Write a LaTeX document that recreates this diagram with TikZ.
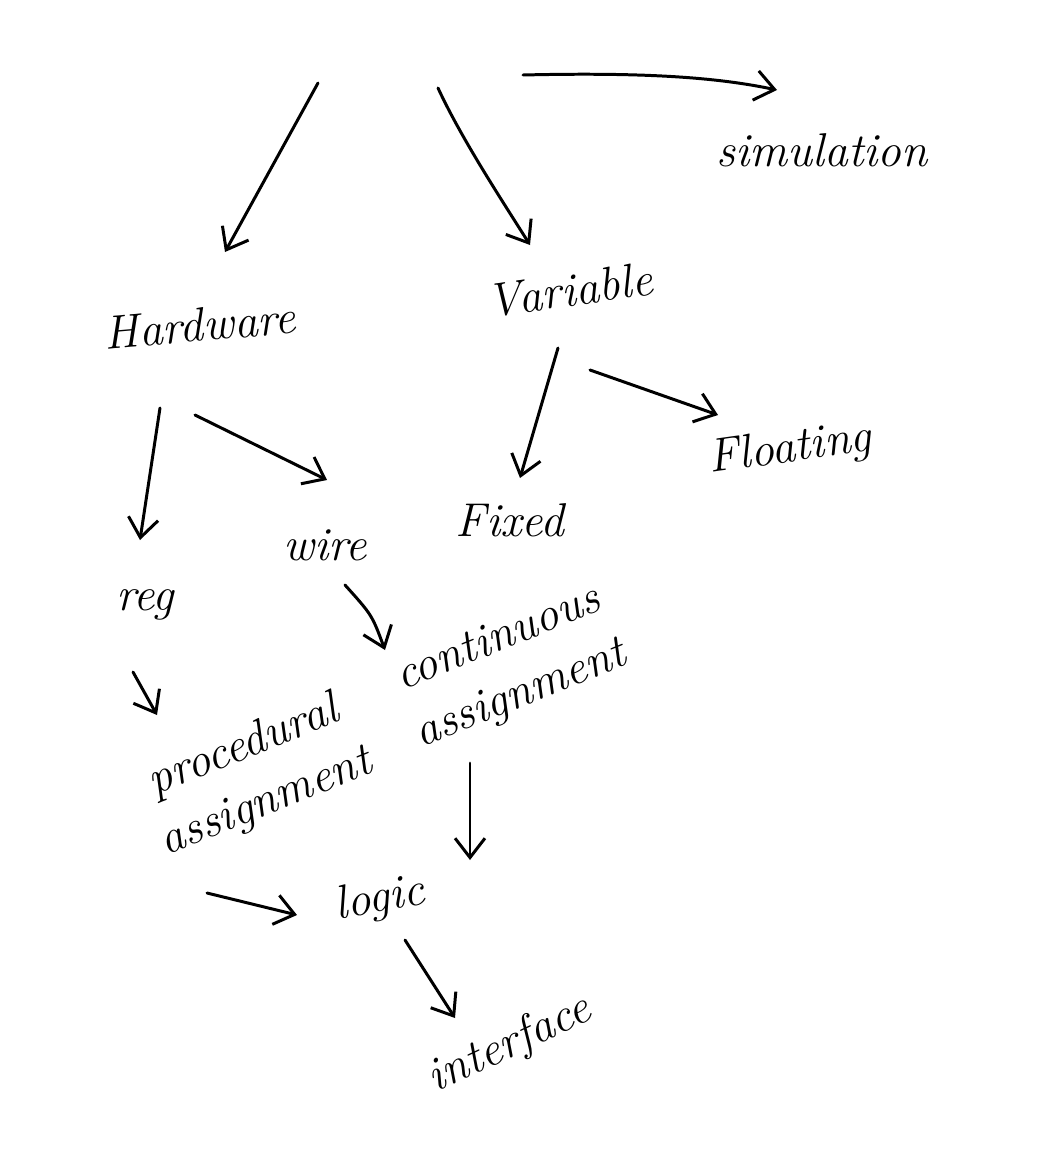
\documentclass[tikz,border=0pt]{standalone}
\usepackage{tikz}
\usetikzlibrary{arrows.meta,calc,positioning}

\tikzset{
  hand/.style={line width=1.7pt, line cap=round, line join=round,
    -{Straight Barb[length=11pt,width=17pt,line width=1.7pt]}},
  word/.style={font=\fontsize{27}{34}\selectfont\itshape, inner sep=2pt, align=center}
}

\begin{document}
\begin{tikzpicture}[x=0.02cm, y=-0.02cm]
  \useasboundingbox[fill=white] (0,0) rectangle (1052,1153);

  % words
  \node[word] (sim) at (822,150) {simulation};
  \node[word, rotate=5] (hw) at (200,325) {Hardware};
  \node[word, rotate=8] (var) at (570,290) {Variable};
  \node[word] (reg) at (145,605) {reg};
  \node[word] (wire) at (325,545) {wire};
  \node[word] (fixed) at (510,520) {Fixed};
  \node[word, rotate=8] (float) at (790,450) {Floating};
  \node[word, rotate=22] (cont) at (510,668) {continuous\\assignment};
  \node[word, rotate=22] (proc) at (255,775) {procedural\\assignment};
  \node[word, rotate=10] (logic) at (380,900) {logic};
  \node[word, rotate=25] (intf) at (510,1045) {interface};

  % free ends at the top
  \coordinate (t1) at (318,83);
  \coordinate (t2) at (438,88);
  \coordinate (t3) at (523,75);

  % arrows
  \draw[hand] (t1) -- ($(hw)+(25,-73)$);
  \draw[hand] (t2) .. controls (462,140) and (505,205) .. ($(var)+(-40,-45)$);
  \draw[hand] (t3) .. controls (650,72) and (720,78) .. ($(sim)+(-45,-60)$);
  \draw[hand] ($(hw)+(-40,83)$) -- ($(reg)+(-5,-65)$);
  \draw[hand] ($(hw)+(-5,90)$) -- ($(wire)+(2,-65)$);
  \draw[hand] ($(var)+(-12,58)$) -- ($(fixed)+(10,-42)$);
  \draw[hand] ($(var)+(20,80)$) -- ($(float)+(-72,-35)$);
  \draw[hand] ($(reg)+(-12,67)$) -- ($(proc)+(-98,-60)$);
  \draw[hand] ($(wire)+(20,40)$) .. controls (372,615) .. ($(cont)+(-125,-18)$);
  \draw[hand] ($(cont)+(-40,95)$) -- ($(logic)+(90,-40)$);
  \draw[hand] ($(proc)+(-48,118)$) -- ($(logic)+(-83,15)$);
  \draw[hand] ($(logic)+(25,40)$) -- ($(intf)+(-55,-27)$);
\end{tikzpicture}
\end{document}
